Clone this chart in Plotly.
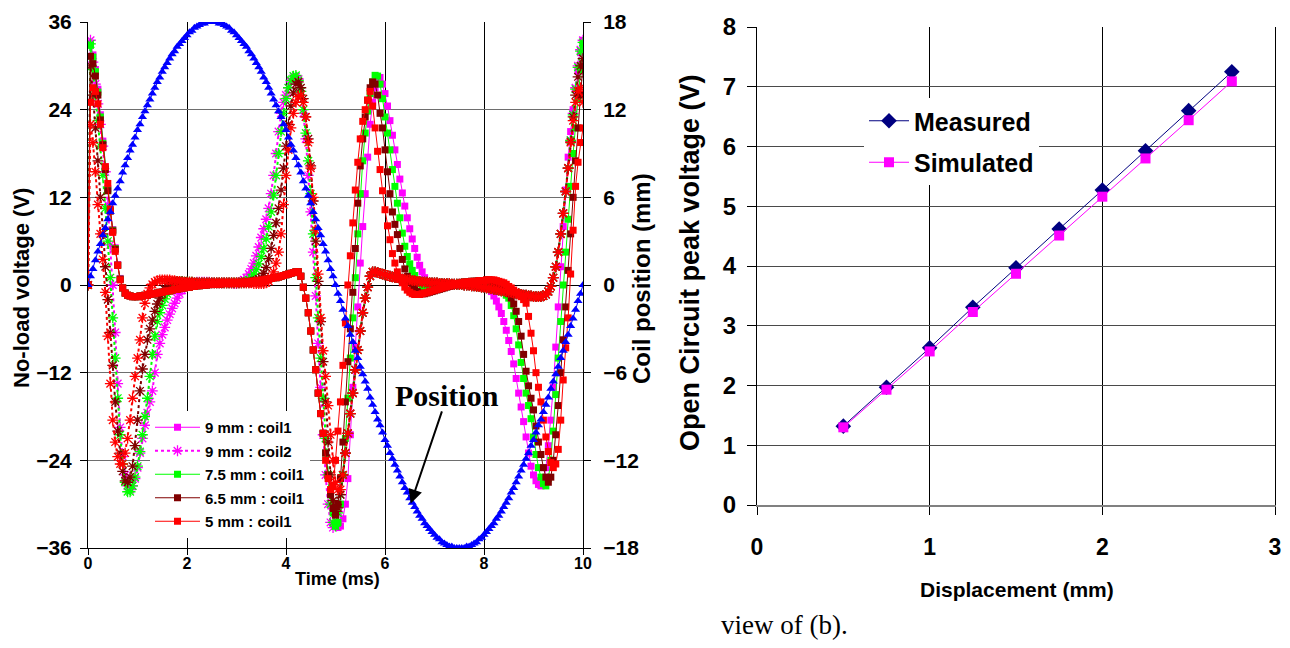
import plotly.graph_objects as go

# ---------------- data ----------------
time_ms = [
 0.00,0.05,0.10,0.15,0.20,0.25,0.30,0.35,0.40,0.45,
 0.50,0.55,0.60,0.65,0.70,0.75,0.80,0.85,0.90,0.95,
 1.00,1.05,1.10,1.15,1.20,1.25,1.30,1.35,1.40,1.45,
 1.50,1.55,1.60,1.65,1.70,1.75,1.80,1.85,1.90,1.95,
 2.00,2.05,2.10,2.15,2.20,2.25,2.30,2.35,2.40,2.45,
 2.50,2.55,2.60,2.65,2.70,2.75,2.80,2.85,2.90,2.95,
 3.00,3.05,3.10,3.15,3.20,3.25,3.30,3.35,3.40,3.45,
 3.50,3.55,3.60,3.65,3.70,3.75,3.80,3.85,3.90,3.95,
 4.00,4.05,4.10,4.15,4.20,4.25,4.30,4.35,4.40,4.45,
 4.50,4.55,4.60,4.65,4.70,4.75,4.80,4.85,4.90,4.95,
 5.00,5.05,5.10,5.15,5.20,5.25,5.30,5.35,5.40,5.45,
 5.50,5.55,5.60,5.65,5.70,5.75,5.80,5.85,5.90,5.95,
 6.00,6.05,6.10,6.15,6.20,6.25,6.30,6.35,6.40,6.45,
 6.50,6.55,6.60,6.65,6.70,6.75,6.80,6.85,6.90,6.95,
 7.00,7.05,7.10,7.15,7.20,7.25,7.30,7.35,7.40,7.45,
 7.50,7.55,7.60,7.65,7.70,7.75,7.80,7.85,7.90,7.95,
 8.00,8.05,8.10,8.15,8.20,8.25,8.30,8.35,8.40,8.45,
 8.50,8.55,8.60,8.65,8.70,8.75,8.80,8.85,8.90,8.95,
 9.00,9.05,9.10,9.15,9.20,9.25,9.30,9.35,9.40,9.45,
 9.50,9.55,9.60,9.65,9.70,9.75,9.80,9.85,9.90,9.95,
 10.00]

position_mm = [
 0.0,0.6,1.1,1.7,2.3,2.8,3.4,3.9,4.5,5.0,
 5.6,6.1,6.6,7.1,7.7,8.2,8.7,9.2,9.6,10.1,
 10.6,11.0,11.5,11.9,12.3,12.7,13.1,13.5,13.9,14.2,
 14.6,14.9,15.2,15.5,15.8,16.0,16.3,16.5,16.7,16.9,
 17.1,17.3,17.4,17.6,17.7,17.8,17.9,17.9,18.0,18.0,
 18.0,18.0,18.0,17.9,17.9,17.8,17.7,17.6,17.4,17.3,
 17.1,16.9,16.7,16.5,16.3,16.0,15.8,15.5,15.2,14.9,
 14.6,14.2,13.9,13.5,13.1,12.7,12.3,11.9,11.5,11.0,
 10.6,10.1,9.6,9.2,8.7,8.2,7.7,7.1,6.6,6.1,
 5.6,5.0,4.5,3.9,3.4,2.8,2.3,1.7,1.1,0.6,
 0.0,-0.6,-1.1,-1.7,-2.3,-2.8,-3.4,-3.9,-4.5,-5.0,
 -5.6,-6.1,-6.6,-7.1,-7.7,-8.2,-8.7,-9.2,-9.6,-10.1,
 -10.6,-11.0,-11.5,-11.9,-12.3,-12.7,-13.1,-13.5,-13.9,-14.2,
 -14.6,-14.9,-15.2,-15.5,-15.8,-16.0,-16.3,-16.5,-16.7,-16.9,
 -17.1,-17.3,-17.4,-17.6,-17.7,-17.8,-17.9,-17.9,-18.0,-18.0,
 -18.0,-18.0,-18.0,-17.9,-17.9,-17.8,-17.7,-17.6,-17.4,-17.3,
 -17.1,-16.9,-16.7,-16.5,-16.3,-16.0,-15.8,-15.5,-15.2,-14.9,
 -14.6,-14.2,-13.9,-13.5,-13.1,-12.7,-12.3,-11.9,-11.5,-11.0,
 -10.6,-10.1,-9.6,-9.2,-8.7,-8.2,-7.7,-7.1,-6.6,-6.1,
 -5.6,-5.0,-4.5,-3.9,-3.4,-2.8,-2.3,-1.7,-1.1,-0.6,
 0.0]

v9_coil1 = [
 0,33.0,31.5,29.5,26.8,23.3,19.7,16.2,13.2,10.3,
 7.6,5.1,2.8,0.9,-0.4,-1.1,-1.4,-1.5,-1.6,-1.6,
 -1.6,-1.5,-1.5,-1.4,-1.4,-1.3,-1.2,-1.2,-1.1,-1.0,
 -1.0,-0.9,-0.8,-0.8,-0.7,-0.6,-0.6,-0.5,-0.4,-0.4,
 -0.3,-0.3,-0.2,-0.2,-0.1,-0.1,0.0,0.0,0.0,0.1,
 0.1,0.1,0.1,0.1,0.2,0.2,0.2,0.2,0.2,0.3,
 0.3,0.3,0.3,0.4,0.4,0.4,0.5,0.5,0.6,0.6,
 0.7,0.7,0.8,0.8,0.9,1.0,1.0,1.1,1.2,1.3,
 1.4,1.5,1.6,1.7,1.8,1.8,1.2,-0.3,-1.8,-3.8,
 -6.3,-8.9,-11.6,-14.8,-17.6,-20.3,-23.0,-26.0,-28.7,-31.0,
 -32.8,-33.2,-33.0,-32.0,-30.0,-26.5,-20.5,-14.0,-8.5,-3.0,
 3.0,8.0,12.5,17.5,22.0,25.0,27.0,28.2,28.4,27.5,
 26.2,24.5,22.5,20.5,18.5,16.5,14.5,12.6,10.8,9.2,
 7.7,6.3,5.0,3.8,2.7,1.8,1.0,0.4,-0.1,-0.4,
 -0.5,-0.5,-0.4,-0.3,-0.2,-0.1,0.0,0.1,0.2,0.2,
 0.3,0.3,0.4,0.4,0.4,0.5,0.5,0.5,0.6,0.6,
 0.5,0.2,-0.3,-0.9,-1.5,-2.2,-3.0,-3.9,-5.0,-6.2,
 -7.6,-9.1,-10.8,-12.8,-14.8,-16.7,-18.7,-20.8,-23.0,-24.8,
 -26.0,-26.8,-27.3,-27.5,-27.0,-25.0,-22.0,-18.5,-14.0,-8.5,
 -3.0,2.5,8.0,13.0,17.5,21.0,24.0,26.8,29.3,31.8,
 33.5]

v9_coil2 = [
 0,33.5,30.5,27.5,24.8,22.0,19.0,15.5,11.0,5.5,
 0.0,-6.5,-13.5,-19.5,-23.5,-26.0,-27.5,-28.0,-27.5,-26.5,
 -25.0,-23.0,-21.0,-19.2,-17.5,-16.0,-14.5,-12.0,-9.5,-8.0,
 -6.8,-5.8,-4.8,-4.0,-3.2,-2.5,-1.8,-1.2,-0.7,-0.3,
 0.0,0.2,0.3,0.3,0.4,0.4,0.4,0.4,0.4,0.4,
 0.3,0.3,0.3,0.3,0.3,0.3,0.3,0.3,0.3,0.2,
 0.2,0.3,0.5,0.7,1.0,1.5,2.2,3.0,4.0,5.2,
 6.5,7.7,9.0,10.5,12.5,15.0,18.0,21.0,23.5,25.0,
 26.0,27.0,27.8,28.3,28.5,28.2,26.5,23.5,20.0,15.0,
 10.0,4.5,-1.5,-8.0,-14.0,-20.5,-26.0,-30.0,-32.5,-33.2,
 -32.8,-31.0,-28.7,-26.0,-23.0,-20.3,-17.6,-14.8,-11.6,-8.9,
 -6.3,-3.8,-1.8,-0.3,1.2,1.8,1.8,1.7,1.6,1.5,
 1.4,1.3,1.2,1.1,1.0,1.0,0.9,0.8,0.8,0.7,
 0.7,0.6,0.6,0.5,0.5,0.4,0.4,0.4,0.3,0.3,
 0.3,0.3,0.2,0.2,0.2,0.2,0.2,0.1,0.1,0.1,
 0.1,0.1,0.0,0.0,0.0,-0.1,-0.1,-0.2,-0.2,-0.3,
 -0.3,-0.4,-0.4,-0.5,-0.6,-0.6,-0.7,-0.8,-0.8,-0.9,
 -1.0,-1.0,-1.1,-1.2,-1.2,-1.3,-1.4,-1.4,-1.5,-1.5,
 -1.6,-1.6,-1.6,-1.6,-1.5,-1.3,-0.9,-0.2,1.0,2.5,
 4.5,7.0,9.8,12.8,16.0,19.8,23.5,27.0,30.0,32.2,
 33.5]

v75_coil1 = [
 0,32.8,31.2,29.2,26.4,23.0,19.4,16.0,13.0,10.2,
 7.5,5.0,2.7,0.8,-0.4,-1.1,-1.4,-1.5,-1.6,-1.6,
 -1.6,-1.5,-1.5,-1.4,-1.4,-1.3,-1.2,-1.2,-1.1,-1.0,
 -1.0,-0.9,-0.8,-0.8,-0.7,-0.6,-0.6,-0.5,-0.4,-0.4,
 -0.3,-0.3,-0.2,-0.2,-0.1,-0.1,0.0,0.0,0.0,0.1,
 0.1,0.1,0.1,0.1,0.2,0.2,0.2,0.2,0.2,0.3,
 0.3,0.3,0.3,0.4,0.4,0.4,0.5,0.5,0.6,0.6,
 0.7,0.7,0.8,0.8,0.9,1.0,1.0,1.1,1.2,1.3,
 1.4,1.5,1.6,1.7,1.8,1.8,1.2,-0.3,-1.8,-3.8,
 -6.3,-8.9,-11.6,-14.8,-17.6,-20.3,-23.0,-26.0,-28.7,-31.2,
 -33.0,-32.5,-30.0,-26.0,-21.0,-15.5,-10.0,-4.5,1.0,7.0,
 12.5,17.0,20.8,23.8,26.2,27.8,28.7,28.6,27.5,25.5,
 23.0,20.8,18.5,15.8,13.5,11.2,9.2,7.1,5.3,3.9,
 2.9,2.0,1.3,0.7,0.2,-0.2,-0.5,-0.7,-0.8,-0.8,
 -0.7,-0.6,-0.5,-0.4,-0.3,-0.2,-0.1,0.0,0.1,0.2,
 0.3,0.3,0.4,0.4,0.4,0.5,0.5,0.5,0.6,0.6,
 0.6,0.6,0.5,0.4,0.2,-0.1,-0.4,-0.7,-1.0,-1.4,
 -1.8,-2.8,-4.2,-6.0,-8.2,-10.6,-12.8,-14.8,-16.5,-18.3,
 -20.8,-23.2,-25.0,-26.3,-27.2,-27.5,-26.5,-24.0,-20.0,-15.0,
 -10.0,-5.0,0.0,4.5,9.0,13.5,18.0,21.5,25.5,29.5,
 33.0]

v75_coil2 = [
 0,33.0,29.5,26.0,22.5,19.0,15.0,10.5,6.0,1.0,
 -4.5,-10.0,-15.5,-20.5,-24.5,-27.0,-28.3,-28.3,-27.5,-26.3,
 -24.8,-22.8,-20.5,-18.0,-15.5,-12.5,-9.5,-7.0,-5.0,-3.8,
 -2.8,-1.9,-1.2,-0.6,-0.1,0.3,0.5,0.5,0.5,0.4,
 0.4,0.4,0.4,0.3,0.3,0.3,0.3,0.3,0.3,0.3,
 0.3,0.3,0.3,0.3,0.3,0.3,0.3,0.3,0.3,0.3,
 0.3,0.3,0.3,0.4,0.5,0.7,1.0,1.5,2.1,2.9,
 3.9,5.0,6.3,8.0,10.0,12.3,15.0,18.0,21.0,23.5,
 25.5,27.0,28.0,28.6,28.7,28.0,26.5,24.0,20.8,17.0,
 12.5,7.0,1.0,-4.5,-10.0,-15.5,-21.0,-26.0,-30.0,-32.5,
 -33.0,-31.2,-28.7,-26.0,-23.0,-20.3,-17.6,-14.8,-11.6,-8.9,
 -6.3,-3.8,-1.8,-0.3,1.2,1.8,1.8,1.7,1.6,1.5,
 1.4,1.3,1.2,1.1,1.0,1.0,0.9,0.8,0.8,0.7,
 0.7,0.6,0.6,0.5,0.5,0.4,0.4,0.4,0.3,0.3,
 0.3,0.3,0.2,0.2,0.2,0.2,0.2,0.1,0.1,0.1,
 0.1,0.1,0.0,0.0,0.0,-0.1,-0.1,-0.2,-0.2,-0.3,
 -0.3,-0.4,-0.4,-0.5,-0.6,-0.6,-0.7,-0.8,-0.8,-0.9,
 -1.0,-1.0,-1.1,-1.2,-1.2,-1.3,-1.4,-1.4,-1.5,-1.5,
 -1.6,-1.6,-1.6,-1.6,-1.5,-1.3,-0.9,-0.2,1.0,2.5,
 4.5,7.0,9.8,12.8,16.0,19.8,23.3,26.8,29.8,32.0,
 33.2]

v65_coil1 = [
 0,31.3,30.3,28.6,26.0,22.6,19.2,15.8,12.9,10.1,
 7.4,4.9,2.7,0.8,-0.4,-1.1,-1.4,-1.5,-1.6,-1.6,
 -1.6,-1.5,-1.5,-1.4,-1.4,-1.3,-1.2,-1.2,-1.1,-1.0,
 -1.0,-0.9,-0.8,-0.8,-0.7,-0.6,-0.6,-0.5,-0.4,-0.4,
 -0.3,-0.3,-0.2,-0.2,-0.1,-0.1,0.0,0.0,0.0,0.1,
 0.1,0.1,0.1,0.1,0.2,0.2,0.2,0.2,0.2,0.3,
 0.3,0.3,0.3,0.4,0.4,0.4,0.5,0.5,0.6,0.6,
 0.7,0.7,0.8,0.8,0.9,1.0,1.0,1.1,1.2,1.3,
 1.4,1.5,1.6,1.7,1.8,1.8,1.2,-0.3,-1.8,-3.8,
 -6.3,-8.9,-11.6,-14.8,-17.6,-20.3,-23.0,-26.0,-28.7,-30.5,
 -31.5,-30.0,-26.5,-21.5,-16.0,-10.5,-6.0,-1.0,5.0,11.2,
 16.3,20.0,23.0,25.3,27.0,27.8,27.5,26.0,23.5,21.5,
 18.5,15.5,12.5,10.0,8.3,6.9,5.0,3.5,2.2,1.2,
 0.4,-0.2,-0.6,-0.9,-1.1,-1.2,-1.2,-1.1,-1.0,-0.9,
 -0.8,-0.7,-0.6,-0.5,-0.4,-0.3,-0.2,-0.1,0.0,0.1,
 0.2,0.3,0.4,0.4,0.4,0.5,0.5,0.5,0.6,0.6,
 0.6,0.7,0.7,0.6,0.4,0.2,0.0,-0.2,-0.4,-0.8,
 -1.2,-1.8,-2.6,-3.6,-5.0,-7.0,-9.5,-11.8,-13.8,-15.5,
 -17.1,-19.3,-21.5,-23.2,-25.0,-26.3,-27.0,-26.3,-24.0,-20.5,
 -16.5,-12.0,-7.5,-3.0,2.0,7.0,12.0,17.0,21.5,26.0,
 30.0]

v65_coil2 = [
 0,30.0,26.0,21.5,17.0,12.0,7.0,2.5,-2.0,-6.5,
 -11.0,-16.0,-20.0,-23.0,-25.5,-26.8,-27.0,-26.3,-24.8,-22.0,
 -18.5,-14.5,-11.5,-9.5,-7.5,-6.0,-4.8,-3.6,-2.6,-1.8,
 -1.2,-0.6,-0.2,0.2,0.4,0.5,0.5,0.5,0.5,0.4,
 0.4,0.4,0.4,0.3,0.3,0.3,0.3,0.3,0.3,0.3,
 0.3,0.3,0.3,0.3,0.3,0.3,0.3,0.3,0.3,0.3,
 0.3,0.3,0.3,0.3,0.3,0.3,0.4,0.5,0.6,0.8,
 1.0,1.6,2.4,3.6,5.0,6.8,8.5,10.5,13.0,16.0,
 19.0,22.0,24.5,26.3,27.5,27.8,27.0,25.5,23.0,20.0,
 16.3,11.5,6.0,0.5,-5.0,-10.5,-16.0,-21.5,-26.0,-29.5,
 -31.0,-30.5,-28.7,-26.0,-23.0,-20.3,-17.6,-14.8,-11.6,-8.9,
 -6.3,-3.8,-1.8,-0.3,1.2,1.8,1.8,1.7,1.6,1.5,
 1.4,1.3,1.2,1.1,1.0,1.0,0.9,0.8,0.8,0.7,
 0.7,0.6,0.6,0.5,0.5,0.4,0.4,0.4,0.3,0.3,
 0.3,0.3,0.2,0.2,0.2,0.2,0.2,0.1,0.1,0.1,
 0.1,0.1,0.0,0.0,0.0,-0.1,-0.1,-0.2,-0.2,-0.3,
 -0.3,-0.4,-0.4,-0.5,-0.6,-0.6,-0.7,-0.8,-0.8,-0.9,
 -1.0,-1.0,-1.1,-1.2,-1.2,-1.3,-1.4,-1.4,-1.5,-1.5,
 -1.6,-1.6,-1.6,-1.6,-1.5,-1.3,-0.9,-0.2,1.0,2.5,
 4.5,7.0,9.8,12.8,16.0,19.6,23.0,26.0,28.5,30.0,
 31.0]

v5_coil1 = [
 0,25.0,27.0,26.5,24.8,22.0,18.8,16.2,13.9,10.4,
 7.2,4.6,2.7,0.7,-0.4,-1.1,-1.4,-1.5,-1.6,-1.6,
 -1.6,-1.5,-1.5,-1.4,-1.4,-1.3,-1.2,-1.2,-1.1,-1.0,
 -1.0,-0.9,-0.8,-0.8,-0.7,-0.6,-0.6,-0.5,-0.4,-0.4,
 -0.3,-0.3,-0.2,-0.2,-0.1,-0.1,0.0,0.0,0.0,0.1,
 0.1,0.1,0.1,0.1,0.2,0.2,0.2,0.2,0.2,0.3,
 0.3,0.3,0.3,0.4,0.4,0.4,0.5,0.5,0.6,0.6,
 0.7,0.7,0.8,0.8,0.9,1.0,1.0,1.1,1.2,1.3,
 1.4,1.5,1.6,1.7,1.8,1.8,1.2,-0.3,-1.8,-3.8,
 -6.3,-8.9,-11.6,-14.8,-17.6,-20.3,-24.0,-26.5,-28.0,-27.5,
 -24.0,-20.0,-16.0,-11.0,-5.2,0.0,4.0,8.5,13.0,16.8,
 20.0,22.4,24.0,25.3,26.5,24.5,21.5,18.3,15.8,12.9,
 10.3,8.1,6.2,4.3,3.0,1.8,1.0,0.3,-0.3,-0.7,
 -1.0,-1.2,-1.3,-1.3,-1.3,-1.2,-1.1,-1.0,-0.9,-0.8,
 -0.7,-0.6,-0.5,-0.4,-0.3,-0.2,-0.1,0.0,0.1,0.2,
 0.2,0.3,0.4,0.4,0.4,0.5,0.5,0.5,0.6,0.6,
 0.6,0.7,0.7,0.7,0.7,0.6,0.5,0.4,0.3,0.1,
 -0.2,-0.4,-0.7,-1.0,-1.3,-1.6,-2.0,-2.5,-4.3,-6.6,
 -9.0,-12.0,-14.0,-16.0,-18.5,-20.8,-22.8,-24.3,-25.0,-24.5,
 -22.5,-18.5,-13.0,-8.6,-4.5,1.5,7.5,13.5,16.8,19.5,
 21.5]

v5_coil2 = [
 0,22.0,19.5,15.5,11.0,7.0,3.5,-1.0,-7.0,-13.5,
 -18.5,-21.5,-23.5,-24.5,-24.5,-23.0,-21.0,-18.5,-15.5,-12.5,
 -10.0,-7.5,-4.5,-2.5,-1.2,-0.4,0.1,0.4,0.6,0.7,
 0.7,0.7,0.7,0.7,0.6,0.6,0.5,0.5,0.4,0.4,
 0.4,0.4,0.4,0.3,0.3,0.3,0.3,0.3,0.3,0.3,
 0.3,0.3,0.3,0.3,0.3,0.3,0.3,0.3,0.3,0.3,
 0.3,0.3,0.3,0.3,0.3,0.3,0.3,0.2,0.2,0.2,
 0.2,0.2,0.3,0.5,1.0,1.8,3.0,4.5,7.0,11.0,
 15.0,18.5,21.5,23.5,25.0,25.8,26.0,25.0,23.0,19.5,
 16.0,12.0,7.5,1.5,-4.5,-9.0,-12.5,-16.5,-20.5,-24.0,
 -27.0,-28.0,-28.0,-26.0,-23.0,-20.3,-17.6,-14.8,-11.6,-8.9,
 -6.3,-3.8,-1.8,-0.3,1.2,1.8,1.8,1.7,1.6,1.5,
 1.4,1.3,1.2,1.1,1.0,1.0,0.9,0.8,0.8,0.7,
 0.7,0.6,0.6,0.5,0.5,0.4,0.4,0.4,0.3,0.3,
 0.3,0.3,0.2,0.2,0.2,0.2,0.2,0.1,0.1,0.1,
 0.1,0.1,0.0,0.0,0.0,-0.1,-0.1,-0.2,-0.2,-0.3,
 -0.3,-0.4,-0.4,-0.5,-0.6,-0.6,-0.7,-0.8,-0.8,-0.9,
 -1.0,-1.0,-1.1,-1.2,-1.2,-1.3,-1.4,-1.4,-1.5,-1.5,
 -1.6,-1.6,-1.6,-1.6,-1.5,-1.3,-0.9,-0.2,1.0,2.5,
 4.5,7.0,9.8,12.8,16.0,19.5,22.5,25.0,26.5,27.0,
 25.0]

displacement_mm = [0.5, 0.75, 1.0, 1.25, 1.5, 1.75, 2.0, 2.25, 2.5, 2.75]
measured_v = [1.32, 1.97, 2.63, 3.31, 3.97, 4.62, 5.27, 5.93, 6.60, 7.25]
simulated_v = [1.30, 1.93, 2.57, 3.23, 3.87, 4.51, 5.16, 5.80, 6.44, 7.09]

left_y_ticks = [-36, -24, -12, 0, 12, 24, 36]
right_y_ticks = [-18, -12, -6, 0, 6, 12, 18]
time_ticks = [0, 2, 4, 6, 8, 10]

for arr in (position_mm, v9_coil1, v9_coil2, v75_coil1, v75_coil2,
            v65_coil1, v65_coil2, v5_coil1, v5_coil2):
    assert len(arr) == len(time_ms), len(arr)

# ---------------- figure ----------------
# page body has an 8px margin, so the figure is 16px smaller than the window
OFF = 8
W, H = 1290 - 2 * OFF, 648 - 2 * OFF
SANS = "Liberation Sans, Arial, sans-serif"
SERIF = "Liberation Serif, Times New Roman, serif"

def px(x):
    return (x - OFF) / W

def py(y):
    return 1 - (y - OFF) / H

MAG, GRN, DRD, RED, BLU, NAV = "#FF00FF", "#00FF00", "#800000", "#FF0000", "#0000FF", "#000080"

fig = go.Figure()

def coil1(y, name, color, group):
    fig.add_trace(go.Scatter(
        x=time_ms, y=y, name=name, mode="lines+markers", legendgroup=group,
        line=dict(color=color, width=1),
        marker=dict(symbol="square", size=7, color=color),
        xaxis="x", yaxis="y", legend="legend"))

def coil2(y, name, color, show, group):
    fig.add_trace(go.Scatter(
        x=time_ms, y=y, name=name, mode="lines+markers", showlegend=show,
        legendgroup=group,
        line=dict(color=color, width=2, dash="dot"),
        marker=dict(symbol="asterisk-open", size=9, color=color,
                    line=dict(color=color, width=1.3)),
        xaxis="x", yaxis="y", legend="legend"))

coil1(v9_coil1, "9 mm : coil1", MAG, "g1")
coil2(v9_coil2, "9 mm : coil2", MAG, True, "g2")
coil1(v75_coil1, "7.5 mm : coil1", GRN, "g3")
coil2(v75_coil2, "7.5 mm : coil2", GRN, False, "h3")
coil1(v65_coil1, "6.5 mm : coil1", DRD, "g4")
coil2(v65_coil2, "6.5 mm : coil2", DRD, False, "h4")
coil1(v5_coil1, "5 mm : coil1", RED, "g5")
coil2(v5_coil2, "5 mm : coil2", RED, False, "h5")

fig.add_trace(go.Scatter(
    x=time_ms, y=position_mm, name="Position", mode="lines+markers",
    showlegend=False, line=dict(color=BLU, width=1),
    marker=dict(symbol="triangle-up", size=8, color=BLU),
    xaxis="x", yaxis="y2"))

fig.add_trace(go.Scatter(
    x=displacement_mm, y=measured_v, name="Measured", mode="lines+markers",
    line=dict(color=NAV, width=1), marker=dict(symbol="diamond", size=12, color=NAV),
    xaxis="x2", yaxis="y3", legend="legend2", legendgroup="m"))
fig.add_trace(go.Scatter(
    x=displacement_mm, y=simulated_v, name="Simulated", mode="lines+markers",
    line=dict(color=MAG, width=1), marker=dict(symbol="square", size=10, color=MAG),
    xaxis="x2", yaxis="y3", legend="legend2", legendgroup="s"))

bold = "bold"
fig.update_layout(
    width=W, height=H, template="none",
    margin=dict(l=0, r=0, t=0, b=0),
    paper_bgcolor="white", plot_bgcolor="white",
    font=dict(family=SANS, color="black"),
    xaxis=dict(domain=[px(88), px(583)], anchor="y", range=[0, 10],
               tickvals=time_ticks, showgrid=True, gridcolor="black", gridwidth=1,
               showline=True, linecolor="black", linewidth=1, zeroline=False,
               ticks="outside", ticklen=6, tickcolor="black", ticklabelstandoff=-5,
               tickfont=dict(size=16, weight=bold, family=SANS), automargin=False),
    yaxis=dict(domain=[py(548), py(22)], anchor="x", range=[-36, 36],
               tickvals=left_y_ticks, showgrid=True, gridcolor="#6e6e6e", gridwidth=1,
               zeroline=True, zerolinecolor="black", zerolinewidth=1,
               showline=True, linecolor="black", linewidth=1,
               ticks="outside", ticklen=7, tickcolor="black", ticklabelstandoff=4,
               tickfont=dict(size=21, weight=bold, family=SANS), automargin=False),
    yaxis2=dict(overlaying="y", side="right", anchor="x", range=[-18, 18],
                tickvals=right_y_ticks, showgrid=False, zeroline=False,
                showline=True, linecolor="black", linewidth=1,
                ticks="outside", ticklen=7, tickcolor="black", ticklabelstandoff=8,
                tickfont=dict(size=21, weight=bold, family=SANS), automargin=False),
    xaxis2=dict(domain=[px(757), px(1275)], anchor="y3", range=[0, 3], dtick=1,
                showgrid=True, gridcolor="black", gridwidth=1, zeroline=False,
                showline=True, linecolor="#808080", linewidth=2,
                ticks="outside", ticklen=8, tickcolor="black", ticklabelstandoff=12,
                tickfont=dict(size=23, weight=bold, family=SANS), automargin=False),
    yaxis3=dict(domain=[py(505), py(27)], anchor="x2", range=[0, 8], dtick=1,
                showgrid=True, gridcolor="#4a4a4a", gridwidth=1, zeroline=False,
                showline=True, linecolor="black", linewidth=1, mirror=True,
                ticks="outside", ticklen=9, tickcolor="black", ticklabelstandoff=6,
                tickfont=dict(size=24, weight=bold, family=SANS), automargin=False),
    legend=dict(x=px(150), y=py(411), xanchor="left", yanchor="top",
                bgcolor="white", borderwidth=0, itemwidth=45, tracegroupgap=1,
                font=dict(size=15, weight=bold, family=SANS)),
    legend2=dict(x=px(864), y=py(98), xanchor="left", yanchor="top",
                 bgcolor="white", borderwidth=0, itemwidth=40,
                 tracegroupgap=6,
                 font=dict(size=25, weight=bold, family=SANS)),
    showlegend=True,
)

ann = [
    dict(text="No-load voltage (V)", x=px(22), y=py(288), textangle=-90,
         font=dict(size=22, weight=bold)),
    dict(text="Coil position (mm)", x=px(641), y=py(279), textangle=-90,
         font=dict(size=24, weight=bold)),
    dict(text="Time (ms)", x=px(337), y=py(579), font=dict(size=18, weight=bold)),
    dict(text="Open Circuit peak voltage (V)", x=px(690), y=py(262), textangle=-90,
         font=dict(size=27, weight=bold)),
    dict(text="Displacement (mm)", x=px(1017), y=py(589), font=dict(size=21, weight=bold)),
    dict(text="view of (b).", x=px(784), y=py(625),
         font=dict(size=27, family=SERIF)),
]
for a in ann:
    a.update(xref="paper", yref="paper", showarrow=False,
             xanchor="center", yanchor="middle")
    fig.add_annotation(**a)

fig.add_annotation(text="Position", x=7.26, y=-15.1, xref="x", yref="y",
                   showarrow=False, font=dict(size=30, weight=bold, family=SERIF))
fig.add_annotation(text="", x=6.52, y=-29.9, xref="x", yref="y",
                   ax=7.16, ay=-17.1, axref="x", ayref="y", showarrow=True,
                   arrowhead=2, arrowsize=1.4, arrowwidth=2, arrowcolor="black",
                   standoff=0)

fig.write_html("out.html")
